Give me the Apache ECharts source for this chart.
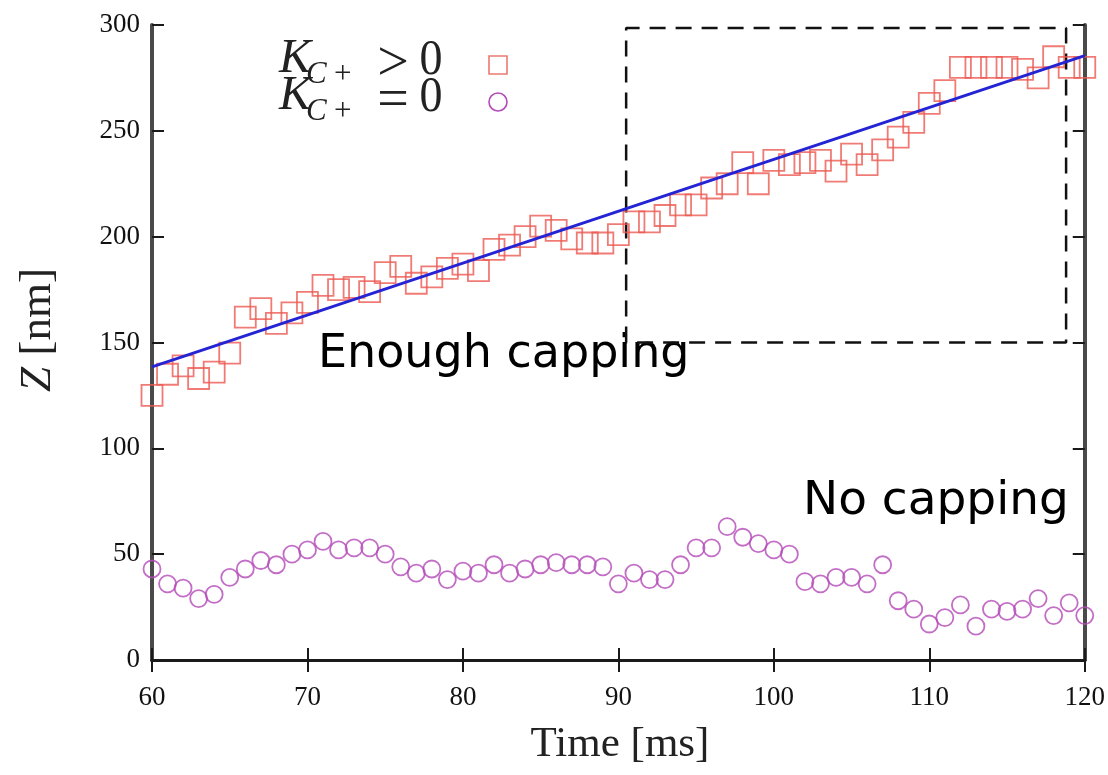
<!DOCTYPE html>
<html>
<head>
<meta charset="utf-8">
<script src="https://cdn.jsdelivr.net/npm/echarts@6/dist/echarts.min.js"></script>
<style>
  html, body { margin: 0; padding: 0; background: #fff; }
  #chart { width: 1108px; height: 775px; }
</style>
</head>
<body>
<div id="chart"></div>
<script>
// Time axis (ms), one sample per millisecond
const times = [60, 61, 62, 63, 64, 65, 66, 67, 68, 69,
               70, 71, 72, 73, 74, 75, 76, 77, 78, 79,
               80, 81, 82, 83, 84, 85, 86, 87, 88, 89,
               90, 91, 92, 93, 94, 95, 96, 97, 98, 99,
               100, 101, 102, 103, 104, 105, 106, 107, 108, 109,
               110, 111, 112, 113, 114, 115, 116, 117, 118, 119, 120];

// Z [nm] with capping (K_C+ > 0)
const zCapped = [125, 135, 139, 133, 136, 145, 162, 166, 159, 164,
                 169, 177, 175, 176, 174, 183, 186, 178, 181, 185,
                 187, 184, 194, 196, 200, 205, 203, 199, 197, 197,
                 201, 207, 207, 210, 215, 215, 223, 225, 235, 225,
                 236, 234, 235, 236, 231, 239, 234, 241, 247, 254,
                 263, 269, 280, 280, 280, 280, 279, 275, 285, 280, 280];

// Z [nm] without capping (K_C+ = 0)
const zUncapped = [43, 36, 34, 29, 31, 39, 43, 47, 45, 50,
                   52, 56, 52, 53, 53, 50, 44, 41, 43, 38,
                   42, 41, 45, 41, 43, 45, 46, 45, 45, 44,
                   36, 41, 38, 38, 45, 53, 53, 63, 58, 55,
                   52, 50, 37, 36, 39, 39, 36, 45, 28, 24,
                   17, 20, 26, 16, 24, 23, 24, 29, 21, 27, 21];

// Linear fit through the capped growth
const fitTimes = [60, 120];
const fitValues = [138.5, 285.5];

// Dashed box around the late, steady-growth window
const boxTimes = [90.5, 90.5, 118.8, 118.8, 90.5];
const boxValues = [150, 298.6, 298.6, 150, 150];

const xTicks = [60, 70, 80, 90, 100, 110, 120];
const yTicks = [0, 50, 100, 150, 200, 250, 300];

const pairs = (xs, ys) => xs.map((x, i) => [x, ys[i]]);

const serif = '"Liberation Serif", "DejaVu Serif", serif';
const handFont = '"Comic Sans MS", "DejaVu Sans", "Noto Sans", sans-serif';

const chart = echarts.init(document.getElementById('chart'), null, { renderer: 'canvas' });

const hLine = { show: true, lineStyle: { color: '#1a1a1a', width: 3 } };
const vLine = { show: true, lineStyle: { color: '#4a4a4a', width: 4 } };
const tick = { show: true, inside: true, length: 12, lineStyle: { color: '#1a1a1a', width: 2 } };
const tickLabel = { fontFamily: serif, fontSize: 27, color: '#111' };

// one legend row: K with subscript C+, relation sign, tall zero
function legendRow(top, sign) {
  return [
    { type: 'text', left: 279, top: top, style: { text: 'K', font: 'italic 48px ' + serif, fill: '#222' } },
    { type: 'text', left: 306, top: top + 24, style: { text: 'C', font: 'italic 31px ' + serif, fill: '#222' } },
    { type: 'text', left: 334, top: top + 24, style: { text: '+', font: '31px ' + serif, fill: '#222' } },
    { type: 'text', x: 393, y: top + 30, style: { text: sign, font: '56px ' + serif, fill: '#222', align: 'center', verticalAlign: 'middle' } },
    { type: 'text', x: 431, y: top + 25, scaleY: 1.12, style: { text: '0', font: '46px ' + serif, fill: '#222', align: 'center', verticalAlign: 'middle' } }
  ];
}

chart.setOption({
  animation: false,
  backgroundColor: '#ffffff',
  grid: { left: 152, right: 19, top: 25, bottom: 115 },
  xAxis: [
    {
      type: 'value', min: xTicks[0], max: xTicks[xTicks.length - 1], interval: 10,
      position: 'bottom',
      axisLine: hLine, axisTick: tick, splitLine: { show: false },
      axisLabel: Object.assign({ margin: 24 }, tickLabel)
    },
    {
      type: 'value', min: xTicks[0], max: xTicks[xTicks.length - 1], interval: 10,
      position: 'top',
      axisLine: hLine, axisTick: tick, splitLine: { show: false },
      axisLabel: { show: false }
    }
  ],
  yAxis: [
    {
      type: 'value', min: yTicks[0], max: yTicks[yTicks.length - 1], interval: 50,
      position: 'left',
      axisLine: vLine, axisTick: tick, splitLine: { show: false },
      axisLabel: Object.assign({ margin: 12 }, tickLabel)
    },
    {
      type: 'value', min: yTicks[0], max: yTicks[yTicks.length - 1], interval: 50,
      position: 'right',
      axisLine: vLine, axisTick: tick, splitLine: { show: false },
      axisLabel: { show: false }
    }
  ],
  series: [
    {
      name: 'box', type: 'line', data: pairs(boxTimes, boxValues),
      showSymbol: false, symbol: 'none', z: 1,
      lineStyle: { color: '#111', width: 2.5, type: [16, 10] }
    },
    {
      name: 'K>0', type: 'scatter', data: pairs(times, zCapped),
      symbol: 'rect', symbolSize: 21, z: 3,
      itemStyle: { color: 'rgba(255,255,255,0)', borderColor: '#ec5a52', borderWidth: 1.8 }
    },
    {
      name: 'K=0', type: 'scatter', data: pairs(times, zUncapped),
      symbol: 'circle', symbolSize: 17, z: 3,
      itemStyle: { color: 'rgba(255,255,255,0)', borderColor: '#b44ab8', borderWidth: 1.8 }
    },
    {
      name: 'fit', type: 'line', data: pairs(fitTimes, fitValues),
      showSymbol: false, symbol: 'none', z: 4,
      lineStyle: { color: '#2424d4', width: 3 }
    }
  ],
  graphic: [].concat(
    legendRow(35, '>'),
    legendRow(72, '='),
    [
      { type: 'rect', shape: { x: 489, y: 56, width: 18, height: 18 },
        style: { fill: 'none', stroke: '#ec7a72', lineWidth: 1.6 } },
      { type: 'circle', shape: { cx: 498, cy: 102, r: 9 },
        style: { fill: 'none', stroke: '#b44ab8', lineWidth: 1.6 } },
      // annotations
      { type: 'text', left: 318, top: 332, style: { text: 'Enough capping', font: '46px ' + handFont, fill: '#000' } },
      { type: 'text', left: 803, top: 478, style: { text: 'No capping', font: '47px ' + handFont, fill: '#000' } },
      // axis titles
      { type: 'text', x: 620, y: 745, style: { text: 'Time [ms]', font: '43px ' + serif, fill: '#222', align: 'center', verticalAlign: 'middle' } },
      { type: 'text', x: 38, y: 330, rotation: Math.PI / 2,
        style: { text: '{z|Z} [nm]', font: '45px ' + serif, fill: '#222', align: 'center', verticalAlign: 'middle',
                 rich: { z: { fontStyle: 'italic', fontFamily: serif, fontSize: 45, fill: '#222' } } } }
    ]
  )
});
</script>
</body>
</html>
